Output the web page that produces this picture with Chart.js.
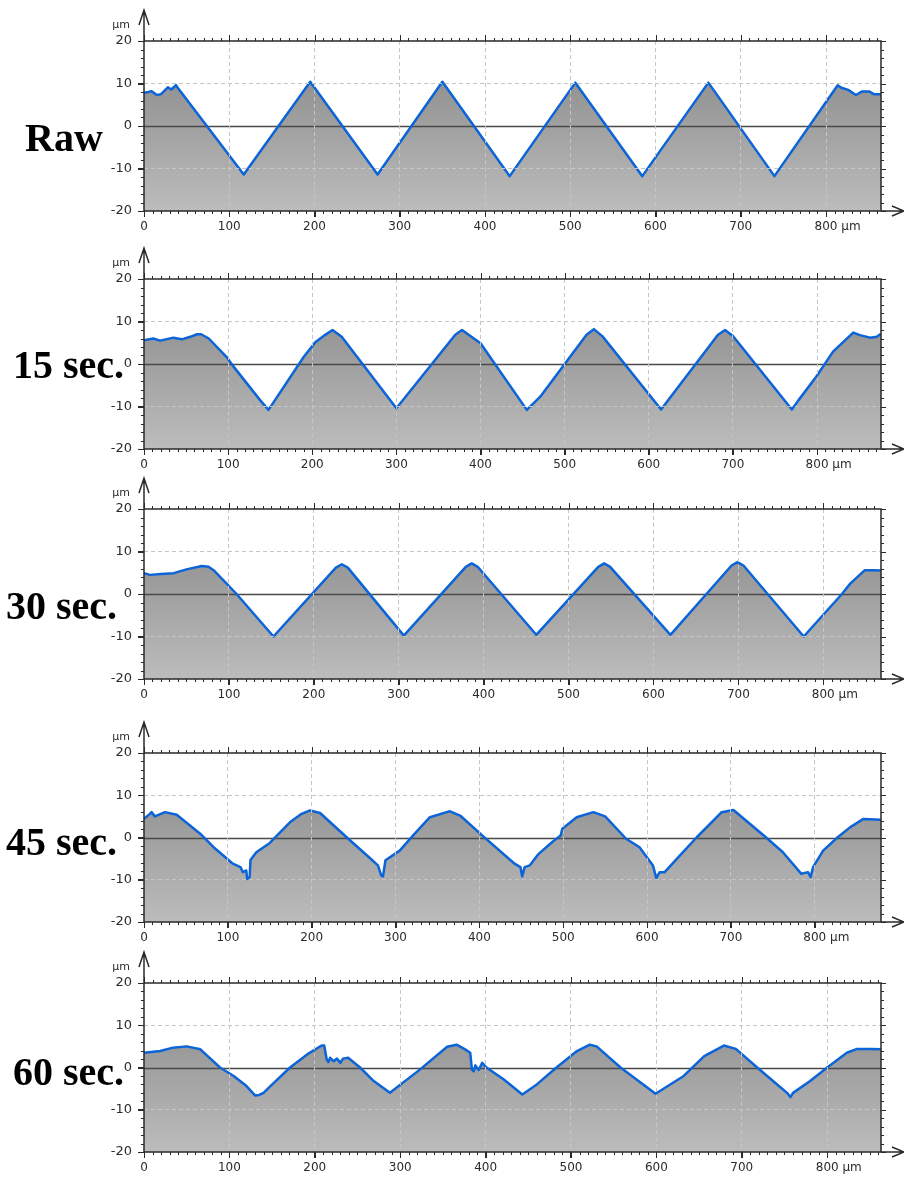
<!DOCTYPE html>
<html>
<head>
<meta charset="utf-8">
<script src="https://cdn.jsdelivr.net/npm/chart.js@4.4.1/dist/chart.umd.min.js"></script>
<style>
  body { margin: 0; background: #fff; width: 904px; height: 1181px; overflow: hidden; position: relative; }
  canvas { position: absolute; left: 0; }
  .tag { position: absolute; font: bold 40px "Liberation Serif", "Times New Roman", serif; line-height: 40px; color: #000; white-space: nowrap; z-index: 2; }
</style>
</head>
<body>
<script>
// ---- data: [x in µm, height in µm] ----
const panelNames = ['Raw', '15 sec.', '30 sec.', '45 sec.', '60 sec.'];
const xMaxes = [864.5, 876, 868, 879, 863];

const raw = [[0,7.8],[5,8.0],[9,8.2],[15,7.3],[20,7.5],[28,9.1],[32,8.6],[37.5,9.6],[40,8.9],
  [117,-11.4],[195,10.4],[274,-11.4],[350,10.4],[429,-11.8],[506,10.2],[584.5,-11.8],[662,10.2],
  [739.5,-11.8],[813.7,9.6],[818,9.0],[826,8.5],[835,7.3],[842,8.1],[851,8.1],[856,7.5],[865,7.5]];

const sec15 = [[0,5.6],[11,6.0],[19,5.5],[35,6.2],[45,5.8],[55,6.4],[63,7.0],[68,7.0],[77,6.0],
  [98,1.7],[106,-0.5],[138,-8.5],[148,-10.8],[190,1.7],[204,5.2],[215,6.8],[224,8.0],[235,6.4],
  [300,-10.4],[370,6.9],[378,8.0],[400,4.9],[455,-10.8],[471,-7.7],[526,6.9],[534.7,8.2],[545,6.5],
  [614.6,-10.7],[682,6.8],[690.6,8.0],[700,6.6],[770,-10.7],[778,-8.5],[799,-3.0],[819,2.9],
  [843,7.4],[851,6.8],[863,6.2],[871,6.4],[876,7.1]];

const sec30 = [[0,4.9],[7,4.5],[20,4.7],[35,4.9],[50,5.8],[68,6.6],[76,6.4],[82,5.6],[109,0],
  [152.5,-10.0],[226,6.2],[233,7.0],[240,6.2],[306,-9.8],[379,6.4],[386,7.2],[393,6.4],[462,-9.6],
  [535,6.4],[542,7.2],[549,6.4],[620,-9.6],[692,6.7],[699,7.5],[706,6.7],[777,-10.0],[822,0],
  [832,2.5],[849,5.6],[859,5.6],[868,5.5]];

const sec45 = [[0,4.4],[7,5.6],[9,6.0],[13,5.0],[25,6.0],[39,5.4],[67,0.9],[83,-2.3],[106,-6.2],
  [115,-7.0],[118,-8.2],[122,-7.8],[123,-9.8],[126,-9.4],[127,-5.3],[134,-3.5],[150,-1.3],[174,3.6],
  [188,5.6],[198,6.4],[210,5.8],[242,0],[269,-4.8],[279,-6.6],[283,-9.0],[285,-9.2],[288,-5.4],
  [305,-3.1],[321,0.5],[341,4.8],[361,6.0],[365,6.2],[377,5.2],[405,0.2],[442,-6.2],[449,-7.0],
  [451,-9.2],[454,-7.0],[460,-6.6],[470,-4.0],[488,-0.9],[497,0.5],[499,2.1],[516,4.8],[536,6.0],
  [550,5.0],[575,-0.3],[591,-2.3],[607,-6.6],[611,-9.6],[615,-8.2],[621,-8.2],[639,-4.3],[659,0],
  [689,6.0],[703,6.5],[742,0],[762,-3.5],[784,-8.6],[792,-8.2],[795,-9.4],[798,-7.0],[810,-3.1],
  [827,0],[842,2.4],[858,4.4],[879,4.2]];

const sec60 = [[0,3.5],[19,3.9],[34,4.7],[50,5.0],[66,4.3],[89,0],[105,-2.0],[120,-4.4],[130,-6.6],
  [135,-6.5],[140,-6.0],[148,-4.4],[171,0],[191,3.1],[208,5.2],[211,5.2],[214,1.9],[216,1.3],
  [218,2.3],[222,1.5],[226,2.1],[230,1.1],[233,2.1],[239,2.3],[253,0],[269,-3.2],[288,-6.0],
  [323,-0.5],[355,4.9],[366,5.4],[376,4.3],[382,3.5],[384,-0.5],[386,-0.9],[388,0.5],[392,-0.6],
  [396,1.1],[401,0],[421,-2.8],[443,-6.4],[460,-4.0],[483,0],[507,3.9],[522,5.4],[530,5.0],
  [558,0],[599,-6.2],[632,-2.0],[656,2.7],[679,5.2],[693,4.4],[718,0],[739,-3.6],[753,-6.0],
  [757,-7.0],[760,-6.0],[780,-3.2],[800,0],[823,3.5],[835,4.4],[851,4.4],[863,4.3]];

const profiles = [raw, sec15, sec30, sec45, sec60];

// ---- layout ----
const plotTops = [41, 279, 509, 753, 983];
const plotHeights = [170, 170, 170, 169, 169];
const tagPos = [[25, 118], [13, 345], [6, 586], [6, 822], [13, 1052]];

Chart.defaults.font.family = '"DejaVu Sans", Verdana, sans-serif';
Chart.defaults.font.size = 12;
Chart.defaults.color = '#2b2b2b';

const AXIS = '#2a2a2a';
const GRID = '#c6c6c6';

// zero line, outer frame, arrows and minor ticks
const framePlugin = {
  id: 'frame',
  beforeDatasetDraw(chart) {
    const { ctx, chartArea: a, scales: { y } } = chart;
    const py = Math.round(y.getPixelForValue(0)) + 0.5;
    ctx.save();
    ctx.strokeStyle = '#4a4a4a';
    ctx.lineWidth = 1.3;
    ctx.beginPath();
    ctx.moveTo(a.left, py);
    ctx.lineTo(a.right, py);
    ctx.stroke();
    ctx.restore();
  },
  afterDraw(chart) {
    const { ctx, chartArea: a, scales: { x, y } } = chart;
    ctx.save();
    ctx.strokeStyle = AXIS;
    ctx.lineWidth = 1.5;
    ctx.beginPath();
    ctx.moveTo(a.left, a.top);
    ctx.lineTo(a.right, a.top);
    ctx.lineTo(a.right, a.bottom);
    ctx.moveTo(a.left, a.bottom + 1);
    ctx.lineTo(a.left, a.top - 31);
    ctx.moveTo(a.left - 5, a.top - 16);
    ctx.lineTo(a.left, a.top - 31);
    ctx.lineTo(a.left + 5, a.top - 16);
    ctx.moveTo(a.left, a.bottom);
    ctx.lineTo(a.right + 23, a.bottom);
    ctx.moveTo(a.right + 11, a.bottom - 5);
    ctx.lineTo(a.right + 23, a.bottom);
    ctx.lineTo(a.right + 11, a.bottom + 5);
    ctx.stroke();

    ctx.lineWidth = 1;
    ctx.beginPath();
    for (let v = 0; v <= x.max; v += 10) {
      const px = Math.round(x.getPixelForValue(v)) + 0.5;
      const len = v % 100 === 0 ? 6 : 3;
      ctx.moveTo(px, a.bottom);
      ctx.lineTo(px, a.bottom + len);
      ctx.moveTo(px, a.top);
      ctx.lineTo(px, a.top - len);
    }
    for (let v = -20; v <= 20; v += 2) {
      const py = Math.round(y.getPixelForValue(v)) + 0.5;
      const major = v % 10 === 0;
      ctx.moveTo(a.left, py);
      ctx.lineTo(a.left - (major ? 6 : 3), py);
      ctx.moveTo(a.right, py);
      ctx.lineTo(a.right + (major ? 5 : 3), py);
    }
    ctx.stroke();

    ctx.fillStyle = '#2b2b2b';
    ctx.textBaseline = 'middle';
    ctx.textAlign = 'center';
    ctx.font = '11px "DejaVu Sans", sans-serif';
    ctx.fillText('µm', a.left - 23, a.top - 16);
    ctx.font = '12px "DejaVu Sans", sans-serif';
    ctx.textAlign = 'left';
    const p800 = x.getPixelForValue(800);
    ctx.fillText('µm', p800 + ctx.measureText('800').width / 2 + ctx.measureText(' ').width, a.bottom + 16);
    ctx.restore();
  }
};

function fillGradient(c) {
  const a = c.chart.chartArea;
  if (!a) return '#a0a0a0';
  const g = c.chart.ctx.createLinearGradient(0, a.top, 0, a.bottom);
  g.addColorStop(0, '#858585');
  g.addColorStop(1, '#bcbcbc');
  return g;
}

profiles.forEach((pts, i) => {
  const h = plotHeights[i];
  const cv = document.createElement('canvas');
  cv.width = 904;
  cv.height = 41 + h + 27;
  cv.style.top = (plotTops[i] - 41) + 'px';
  document.body.appendChild(cv);

  new Chart(cv, {
    type: 'line',
    data: {
      datasets: [{
        data: pts.map(p => ({ x: p[0], y: p[1] })),
        borderColor: '#0b64d8',
        borderWidth: 2.5,
        borderJoinStyle: 'round',
        pointRadius: 0,
        tension: 0,
        fill: 'start',
        backgroundColor: fillGradient
      }]
    },
    options: {
      responsive: false,
      animation: false,
      events: [],
      layout: { padding: { top: 41, left: 0, right: 23, bottom: 0 } },
      plugins: { legend: { display: false }, tooltip: { enabled: false } },
      scales: {
        x: {
          type: 'linear',
          min: 0,
          max: xMaxes[i],
          afterBuildTicks: s => { s.ticks = s.ticks.filter(t => t.value % 100 === 0); },
          afterFit: s => { s.height = 27; },
          ticks: { stepSize: 100, padding: 3, maxRotation: 0, autoSkip: false },
          grid: {
            color: c => (c.tick && c.tick.value > 0) ? GRID : 'rgba(0,0,0,0)',
            tickColor: AXIS, tickLength: 6, lineWidth: 1, z: 1
          },
          border: { display: false, dash: [4, 3] }
        },
        y: {
          min: -20,
          max: 20,
          afterFit: s => { s.width = 144; },
          ticks: { stepSize: 10, padding: 6, font: { size: 13 } },
          grid: {
            color: c => (c.tick && Math.abs(c.tick.value) === 10) ? GRID : 'rgba(0,0,0,0)',
            tickColor: AXIS, tickLength: 6, lineWidth: 1, z: 1
          },
          border: { display: false, dash: [4, 3] }
        }
      }
    },
    plugins: [framePlugin]
  });

  const tag = document.createElement('div');
  tag.className = 'tag';
  tag.textContent = panelNames[i];
  tag.style.left = tagPos[i][0] + 'px';
  tag.style.top = tagPos[i][1] + 'px';
  document.body.appendChild(tag);
});
</script>
</body>
</html>
